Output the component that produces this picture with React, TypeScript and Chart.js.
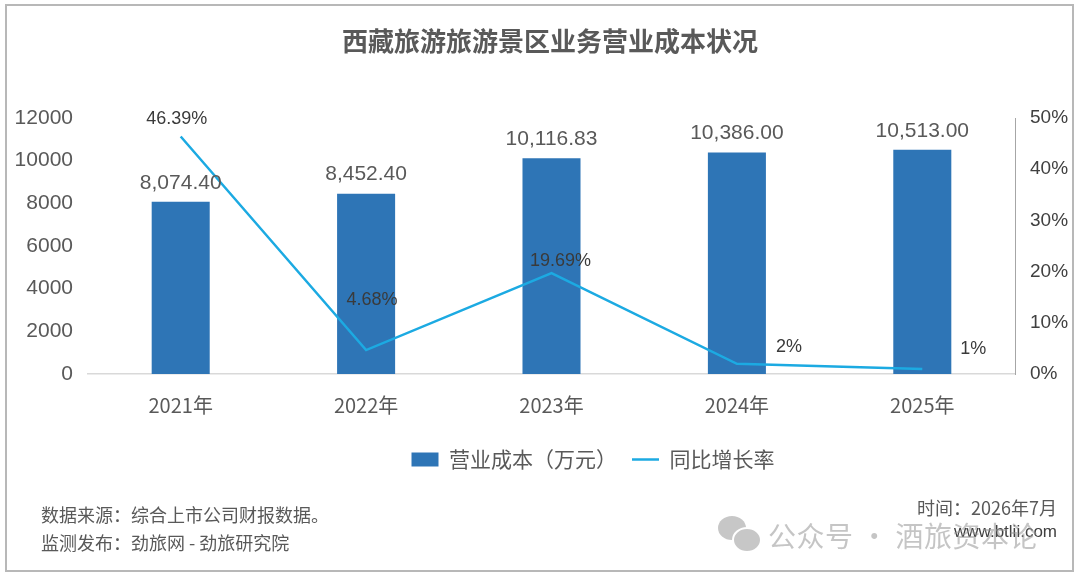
import React, { useEffect, useRef } from 'react';
import { Chart, registerables } from 'chart.js';

Chart.register(...registerables);

// ---- data ----
const categories = ['2021年', '2022年', '2023年', '2024年', '2025年'];
const costValues = [8074.4, 8452.4, 10116.83, 10386.0, 10513.0];
const growthValues = [46.39, 4.68, 19.69, 2, 1];
const growthLabels = ['46.39%', '4.68%', '19.69%', '2%', '1%'];
const leftAxisMax = 12000;
const leftAxisStep = 2000;
const rightAxisMax = 50;
const rightAxisStep = 10;

const costLabel = '营业成本（万元）';
const growthLabel = '同比增长率';
const titleText = '西藏旅游旅游景区业务营业成本状况';

// ---- styles ----
const BAR_COLOR = '#2e75b6';
const LINE_COLOR = '#1caae2';
const TEXT_GRAY = '#595959';
const NUM_FONT = '"Liberation Sans", Arial, sans-serif';
const CJK_FONT = '"Noto Sans CJK SC", "Noto Sans", sans-serif';
// label offsets (px) of the growth-rate labels relative to their points
const LINE_LABEL_OFFSETS: [number, number][] = [
  [-4, -17],
  [6, -50],
  [9, -12],
  [52, -17],
  [51, -20],
];

const valueLabelPlugin = {
  id: 'valueLabels',
  afterDatasetsDraw(chart: any) {
    const ctx = chart.ctx;
    ctx.save();
    ctx.textAlign = 'center';
    ctx.textBaseline = 'middle';
    const barMeta = chart.getDatasetMeta(0);
    ctx.font = `21px ${NUM_FONT}`;
    ctx.fillStyle = TEXT_GRAY;
    barMeta.data.forEach((el: any, i: number) => {
      const v = chart.data.datasets[0].data[i] as number;
      const txt = v.toLocaleString('en-US', { minimumFractionDigits: 2, maximumFractionDigits: 2 });
      ctx.fillText(txt, el.x, el.y - 19);
    });
    const lineMeta = chart.getDatasetMeta(1);
    ctx.font = `18px ${NUM_FONT}`;
    ctx.fillStyle = '#3a3a3a';
    lineMeta.data.forEach((el: any, i: number) => {
      const [dx, dy] = LINE_LABEL_OFFSETS[i] || [0, -15];
      ctx.fillText(growthLabels[i], el.x + dx, el.y + dy);
    });
    ctx.restore();
  },
};

const legendShiftPlugin = {
  id: 'legendShift',
  afterLayout(chart: any) {
    const lg = chart.legend;
    if (lg) {
      lg.left += 53;
      lg.right += 53;
    }
  },
};

function ChartCanvas() {
  const ref = useRef<HTMLCanvasElement | null>(null);
  useEffect(() => {
    if (!ref.current) return;
    const chart = new Chart(ref.current, {
      type: 'bar',
      data: {
        labels: categories,
        datasets: [
          {
            type: 'bar',
            label: costLabel,
            data: costValues,
            backgroundColor: BAR_COLOR,
            borderWidth: 0,
            yAxisID: 'y',
            barPercentage: 0.313,
            categoryPercentage: 1,
            order: 1,
            pointStyle: 'rect',
          } as any,
          {
            type: 'line',
            label: growthLabel,
            data: growthValues,
            borderColor: LINE_COLOR,
            backgroundColor: LINE_COLOR,
            borderWidth: 2.5,
            pointRadius: 0,
            pointHoverRadius: 0,
            tension: 0,
            fill: false,
            yAxisID: 'y1',
            order: 0,
            pointStyle: 'line',
          } as any,
        ],
      },
      options: {
        animation: false,
        responsive: true,
        maintainAspectRatio: false,
        layout: { padding: { top: 118, left: 0, right: 0, bottom: 99 } },
        plugins: {
          title: { display: false },
          tooltip: { enabled: false },
          legend: {
            display: true,
            position: 'bottom',
            labels: {
              usePointStyle: true,
              pointStyleWidth: 27,
              boxHeight: 14,
              padding: 15,
              color: TEXT_GRAY,
              font: { family: CJK_FONT, size: 21 },
              sort: (a: any, b: any) => a.datasetIndex - b.datasetIndex,
            },
          },
        },
        scales: {
          x: {
            grid: { display: false, drawTicks: false },
            border: { display: true, color: '#d9d9d9', width: 1.5 },
            ticks: {
              color: TEXT_GRAY,
              font: { family: CJK_FONT, size: 20 },
              padding: 19,
            },
            afterFit(scale: any) {
              scale.height = 60;
            },
          },
          y: {
            position: 'left',
            min: 0,
            max: leftAxisMax,
            grid: { display: false, drawTicks: false },
            border: { display: false },
            ticks: {
              stepSize: leftAxisStep,
              color: TEXT_GRAY,
              font: { family: NUM_FONT, size: 21 },
              padding: 15,
              callback: (v: any) => String(v),
            },
            afterFit(scale: any) {
              scale.width = 88;
            },
          },
          y1: {
            position: 'right',
            min: 0,
            max: rightAxisMax,
            grid: { display: false, drawTicks: false },
            border: { display: true, color: '#a6a6a6', width: 1 },
            ticks: {
              stepSize: rightAxisStep,
              color: '#404040',
              font: { family: NUM_FONT, size: 19 },
              padding: 15,
              callback: (v: any) => `${v}%`,
            },
            afterFit(scale: any) {
              scale.width = 65;
            },
          },
        },
      } as any,
      plugins: [valueLabelPlugin, legendShiftPlugin],
    });
    return () => chart.destroy();
  }, []);
  return <canvas ref={ref} />;
}

export default function App() {
  return (
    <div
      style={{
        position: 'fixed',
        left: 0,
        top: 0,
        width: 1080,
        height: 579,
        background: '#ffffff',
        overflow: 'hidden',
        fontFamily: CJK_FONT,
      }}
    >
      <div style={{ position: 'absolute', left: 0, top: 0, width: 1080, height: 579 }}>
        <ChartCanvas />
      </div>
      {/* frame */}
      <div
        style={{
          position: 'absolute',
          left: 5,
          top: 4,
          width: 1069,
          height: 568,
          boxSizing: 'border-box',
          border: '2px solid #b8b8b8',
          pointerEvents: 'none',
        }}
      />
      {/* title */}
      <div
        style={{
          position: 'absolute',
          left: 0,
          top: 25,
          width: 1100,
          textAlign: 'center',
          fontSize: 26,
          lineHeight: '30px',
          fontWeight: 700,
          color: TEXT_GRAY,
        }}
      >
        {titleText}
      </div>
      {/* footer left */}
      <div style={{ position: 'absolute', left: 41, top: 500, fontSize: 18, lineHeight: '28px', color: TEXT_GRAY }}>
        <div>数据来源：综合上市公司财报数据。</div>
        <div>监测发布：劲旅网 - 劲旅研究院</div>
      </div>
      {/* footer right */}
      <div
        style={{
          position: 'absolute',
          right: 23,
          top: 494,
          fontSize: 18,
          lineHeight: '26px',
          color: TEXT_GRAY,
          textAlign: 'right',
        }}
      >
        时间：2026年7月
      </div>
      <div
        style={{
          position: 'absolute',
          right: 23,
          top: 520,
          fontSize: 17,
          lineHeight: '24px',
          color: '#404040',
          textAlign: 'right',
          fontFamily: NUM_FONT,
        }}
      >
        www.btlii.com
      </div>
      {/* watermark */}
      <div style={{ position: 'absolute', left: 718, top: 516, width: 44, height: 40, opacity: 0.55 }}>
        <div
          style={{
            position: 'absolute',
            left: 0,
            top: 0,
            width: 28,
            height: 24,
            borderRadius: '50%',
            background: '#9a9a9a',
          }}
        />
        <div
          style={{
            position: 'absolute',
            left: 14,
            top: 11,
            width: 26,
            height: 22,
            borderRadius: '50%',
            background: '#9a9a9a',
            border: '2px solid #ffffff',
          }}
        />
      </div>
      <div
        style={{
          position: 'absolute',
          left: 768,
          top: 517,
          fontSize: 28,
          lineHeight: '36px',
          letterSpacing: 0.5,
          color: 'rgba(150,150,150,0.55)',
          whiteSpace: 'nowrap',
        }}
      >
        公众号 · 酒旅资本论
      </div>
    </div>
  );
}
